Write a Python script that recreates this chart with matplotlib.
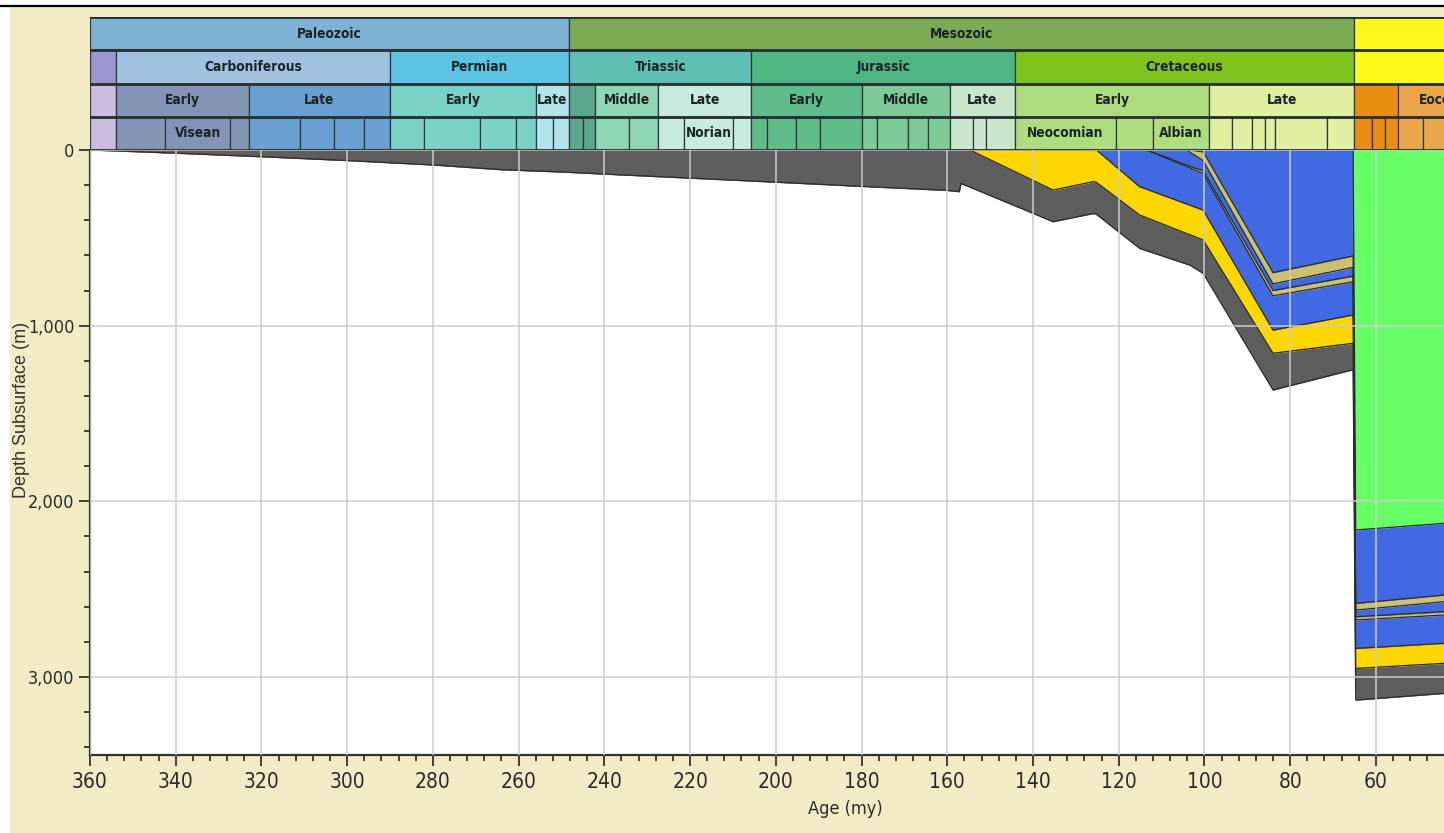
import numpy as np
import matplotlib
matplotlib.use('Agg')
import matplotlib.pyplot as plt
from matplotlib import font_manager
from matplotlib.ticker import MultipleLocator, FuncFormatter
from matplotlib.patches import Rectangle
from matplotlib.lines import Line2D

# narrow face if one is installed, plain Liberation Sans otherwise
installed = {(f.name, f.stretch) for f in font_manager.fontManager.ttflist}
if any(n == 'Liberation Sans Narrow' for n, s in installed):
    plt.rcParams['font.family'] = ['Liberation Sans Narrow', 'DejaVu Sans']
elif ('DejaVu Sans', 'condensed') in installed or ('DejaVu Sans', 'semi-condensed') in installed:
    plt.rcParams['font.family'] = ['DejaVu Sans']
    plt.rcParams['font.stretch'] = 'condensed'
else:
    plt.rcParams['font.family'] = ['Liberation Sans', 'DejaVu Sans']

# Time scale (ages in my)
era_edges = [360, 248.2, 65, 0]
era_names = ['Paleozoic', 'Mesozoic', '']
era_colors = ['#7EB2D4', '#7DAA55', '#FFF71C']

period_edges = [360, 354, 290, 248.2, 205.7, 144.2, 65, 1.8]
period_names = ['', 'Carboniferous', 'Permian', 'Triassic', 'Jurassic', 'Cretaceous', '']
period_colors = ['#9A97D0', '#A0C2DE', '#5CC3E2', '#5FBFB3', '#4FB585', '#7FC41E', '#FFFB17']

epoch_edges = [360, 354, 323, 290, 256, 248.2, 242.2, 227.4, 205.7, 180, 159.4, 144.2, 98.9, 65, 54.8, 33.7]
epoch_names = ['', 'Early', 'Late', 'Early', 'Late', '', 'Middle', 'Late',
               'Early', 'Middle', 'Late', 'Early', 'Late', '', 'Eocene']
epoch_colors = ['#CEBCE0', '#8395B5', '#68A0D2', '#7BD3C8', '#B5E3EC', '#5BA88E', '#8FD6B7', '#C8EBDF',
                '#5FBC8B', '#7ECB97', '#C9E7CC', '#AEDC7E', '#E2EEA0', '#EB8D10', '#EBA64C']

stage_edges = [360, 354, 342.4, 327.3, 323, 311, 303, 296, 290, 282, 269, 260.5, 256, 252, 248.2,
               245, 242.2, 234.3, 227.4, 221.4, 210, 205.7, 202, 195.3, 189.6, 180, 176.5, 169.2,
               164.4, 159.4, 154.1, 151, 144.2, 120.7, 112, 98.9, 93.5, 89, 85.8, 83.5, 71.3, 65,
               61, 57.9, 54.8, 49, 41.3]
stage_labels = {'Visean': (342.4, 327.3), 'Norian': (221.4, 210),
                'Neocomian': (144.2, 120.7), 'Albian': (112, 98.9)}

# Burial history: horizon depths (m) at each age, oldest horizon first
ages = [360, 354, 340, 320, 300, 280, 264, 250, 240, 220, 200, 180, 160, 157.2, 156.8, 154.7,
        135.3, 125.9, 125.2, 115.1, 113.5, 104.3, 103.4, 100.3, 84.0, 65.3, 64.7, 44.0]
h_base = [0, 5, 18, 38, 60, 85, 112, 125, 137, 160, 183, 207, 230, 237, 190, 211,
          408, 361, 366, 560, 573, 648, 655, 702, 1366, 1250, 3131, 3093]
h_gray = [0, 0, 0, 0, 0, 0, 0, 0, 0, 0, 0, 0, 0, 0, 0, 0,
          228, 180, 184, 370, 385, 474, 482, 512, 1157, 1100, 2951, 2922]
h_yellow = [0, 0, 0, 0, 0, 0, 0, 0, 0, 0, 0, 0, 0, 0, 0, 0,
            0, 0, 0, 209, 223, 306, 314, 342, 1025, 939, 2837, 2808]
h_blue1 = [0, 0, 0, 0, 0, 0, 0, 0, 0, 0, 0, 0, 0, 0, 0, 0,
           0, 0, 0, 0, 0, 93, 102, 133, 830, 750, 2675, 2647]
h_khaki1 = [0, 0, 0, 0, 0, 0, 0, 0, 0, 0, 0, 0, 0, 0, 0, 0,
            0, 0, 0, 0, 0, 85, 93, 118, 800, 718, 2657, 2628]
h_blue2 = [0, 0, 0, 0, 0, 0, 0, 0, 0, 0, 0, 0, 0, 0, 0, 0,
           0, 0, 0, 0, 0, 0, 12, 60, 762, 668, 2619, 2571]
h_khaki2 = [0, 0, 0, 0, 0, 0, 0, 0, 0, 0, 0, 0, 0, 0, 0, 0,
            0, 0, 0, 0, 0, 0, 0, 10, 698, 603, 2581, 2533]
h_blue3 = [0, 0, 0, 0, 0, 0, 0, 0, 0, 0, 0, 0, 0, 0, 0, 0,
           0, 0, 0, 0, 0, 0, 0, 0, 0, 0, 2163, 2125]
h_surface = [0, 0, 0, 0, 0, 0, 0, 0, 0, 0, 0, 0, 0, 0, 0, 0,
             0, 0, 0, 0, 0, 0, 0, 0, 0, 0, 0, 0]

horizons = [h_base, h_gray, h_yellow, h_blue1, h_khaki1, h_blue2, h_khaki2, h_blue3, h_surface]
layer_colors = ['#5E5E5E', '#FFD700', '#4169E1', '#C8C272', '#4169E1', '#C8C272', '#4169E1', '#66FF66']

W, H = 1444, 833
fig = plt.figure(figsize=(W / 100, H / 100), dpi=100, facecolor='white')
fig.patches.append(Rectangle((10 / W, 0), 1, (H - 7) / H, transform=fig.transFigure,
                             facecolor='#F3EBC6', edgecolor='none', zorder=-10))
fig.lines.append(Line2D([0, 1], [(H - 6) / H] * 2, transform=fig.transFigure, color='black', lw=1.6))

x0 = 90 / W
ax = fig.add_axes([x0, 78 / H, 1 - x0, 605 / H])
axh = fig.add_axes([x0, (H - 150) / H, 1 - x0, 133 / H], sharex=ax)

# --- burial layers
a = np.array(ages)
for i, col in enumerate(layer_colors):
    ax.fill_between(a, horizons[i], horizons[i + 1], color=col, lw=0.4, edgecolor=col, zorder=1)
for h in horizons[:-1]:
    ax.plot(a, h, color='#2B2B2B', lw=0.9, zorder=2)

ax.set_xlim(360, 44.1)
ax.set_ylim(3444, 0)
ax.xaxis.set_major_locator(MultipleLocator(20))
ax.xaxis.set_minor_locator(MultipleLocator(4))
ax.yaxis.set_major_locator(MultipleLocator(1000))
ax.yaxis.set_minor_locator(MultipleLocator(200))
ax.yaxis.set_major_formatter(FuncFormatter(lambda v, p: f'{v:,.0f}'))
ax.set_axisbelow(False)
ax.grid(True, which='major', color='#CCCCCC', lw=1.1)
ax.tick_params(which='both', direction='out', color='#333333', width=1.3)
ax.tick_params(which='major', length=8)
ax.tick_params(which='minor', length=4)
ax.tick_params(axis='x', labelsize=15, labelcolor='#2A2A2A', pad=4)
ax.tick_params(axis='y', labelsize=13, labelcolor='#2A2A2A', pad=3)
for s in ['top', 'right']:
    ax.spines[s].set_visible(False)
for s in ['left', 'bottom']:
    ax.spines[s].set_color('#333333')
    ax.spines[s].set_linewidth(1.6)

fig.text(845 / W, (H - 809) / H, 'Age (my)', ha='center', va='center', fontsize=13, color='#2A2A2A')
fig.text(22 / W, (H - 410) / H, 'Depth Subsurface (m)', ha='center', va='center', rotation=90,
         fontsize=13, color='#333333', family=['Liberation Sans', 'DejaVu Sans'], stretch='normal')

# --- time scale header
def epoch_color(mid):
    for k in range(len(epoch_names)):
        if epoch_edges[k] >= mid > epoch_edges[k + 1]:
            return epoch_colors[k]
    return 'white'

stage_colors = [epoch_color((stage_edges[k] + stage_edges[k + 1]) / 2) for k in range(len(stage_edges) - 1)]

rows = [(3, era_edges, era_names, era_colors),
        (2, period_edges, period_names, period_colors),
        (1, epoch_edges, epoch_names, epoch_colors),
        (0, stage_edges, [''] * (len(stage_edges) - 1), stage_colors)]
for y, edges, names, colors in rows:
    for k in range(len(edges) - 1):
        start, end = edges[k], edges[k + 1]
        axh.bar(end, 1, width=start - end, bottom=y, align='edge', color=colors[k],
                edgecolor='#2E3838', lw=0.9)
        if names[k]:
            axh.text((start + end) / 2, y + 0.5, names[k], ha='center', va='center',
                     fontsize=9.8, fontweight='bold', color='#1A2424')
for name, (start, end) in stage_labels.items():
    axh.text((start + end) / 2, 0.5, name, ha='center', va='center',
             fontsize=9.8, fontweight='bold', color='#1A2424')
for y in range(5):
    axh.axhline(y, color='#243030', lw=2)

axh.set_ylim(0, 4)
axh.axis('off')

fig.savefig('out.png', dpi=100, facecolor=fig.get_facecolor())
